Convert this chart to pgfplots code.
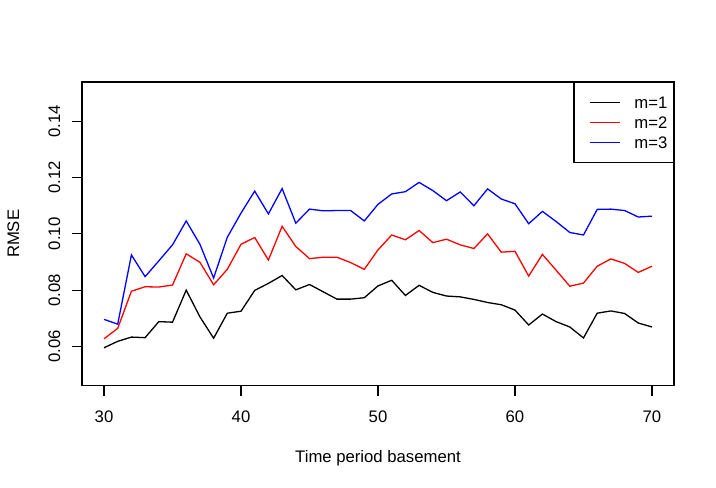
\documentclass[border=0pt]{standalone}
\usepackage{fontspec}
\setmainfont{Liberation Sans}
\usepackage{pgfplots}
\usepackage{pgfplotstable}
\pgfplotsset{compat=1.18}
\pgfplotstableread{
x m1 m2 m3
30 0.0595 0.0627 0.0696
31 0.0618 0.0664 0.0679
32 0.0633 0.0796 0.0925
33 0.0631 0.0812 0.0848
34 0.0688 0.0811 0.0904
35 0.0686 0.0818 0.0961
36 0.0800 0.0929 0.1046
37 0.0705 0.0899 0.0963
38 0.0629 0.0819 0.0843
39 0.0718 0.0874 0.0988
40 0.0725 0.0963 0.1074
41 0.0799 0.0987 0.1152
42 0.0824 0.0907 0.1071
43 0.0852 0.1027 0.1161
44 0.0801 0.0955 0.1038
45 0.0820 0.0912 0.1088
46 0.0794 0.0917 0.1082
47 0.0768 0.0917 0.1083
48 0.0768 0.0898 0.1083
49 0.0773 0.0874 0.1046
50 0.0815 0.0943 0.1105
51 0.0835 0.0996 0.1142
52 0.0781 0.0979 0.1150
53 0.0817 0.1012 0.1183
54 0.0792 0.0969 0.1154
55 0.0779 0.0981 0.1118
56 0.0776 0.0961 0.1149
57 0.0767 0.0948 0.1100
58 0.0756 0.1000 0.1160
59 0.0748 0.0935 0.1124
60 0.0729 0.0938 0.1107
61 0.0676 0.0850 0.1036
62 0.0715 0.0927 0.1080
63 0.0688 0.0871 0.1044
64 0.0669 0.0814 0.1005
65 0.0630 0.0825 0.0996
66 0.0718 0.0885 0.1087
67 0.0726 0.0911 0.1088
68 0.0717 0.0895 0.1083
69 0.0683 0.0863 0.1060
70 0.0669 0.0885 0.1063
}\datatable
\newcommand{\rfont}{\fontsize{16.7bp}{20bp}\selectfont}
\begin{document}
\begin{tikzpicture}
\useasboundingbox (-82.1bp,-102.25bp) rectangle (633.9bp,385.75bp);
\begin{axis}[
  at={(0,0)}, anchor=south west,
  scale only axis,
  width=591.8bp, height=303.75bp,
  xmin=28.4, xmax=71.6,
  ymin=0.046, ymax=0.154,
  xtick={30,40,50,60,70},
  ytick={0.06,0.08,0.10,0.12,0.14},
  xtick pos=left, ytick pos=left,
  tick align=outside,
  major tick length=10bp,
  axis line style={line width=1.2bp},
  every tick/.style={black, line width=1.2bp},
  /pgf/number format/assume math mode=true,
  yticklabel={\pgfmathprintnumber[fixed,fixed zerofill,precision=2]{\tick}},
  xticklabel={\pgfmathprintnumber[fixed,precision=0]{\tick}},
  every tick label/.append style={font=\rfont},
  xticklabel style={anchor=base, inner sep=0pt, yshift=-26.5bp},
  yticklabel style={xshift=-12bp, rotate=90, anchor=base, inner sep=0pt},
  xlabel={Time period basement},
  ylabel={RMSE},
  every axis x label/.style={at={(axis description cs:0.5,-0.25103)}, anchor=base, font=\rfont, inner sep=0pt},
  every axis y label/.style={at={(axis description cs:-0.10646,0.5)}, rotate=90, anchor=base, font=\rfont, inner sep=0pt},
  legend cell align=left,
  legend style={at={(1,1)}, anchor=north east, draw=black, line width=1.2bp, fill=white,
    inner xsep=6bp, inner ysep=10bp, column sep=14bp, row sep=0pt,
    font=\rfont,
    nodes={inner sep=0pt, text height=16bp, text depth=4bp}},
  legend image code/.code={\path (-9bp,0bp); \draw[#1, line width=1.3bp] (0bp,0bp) -- (30bp,0bp);},
]
\addplot[black, line width=1.3bp] table[x=x, y=m1] {\datatable};
\addlegendentry{m=1}
\addplot[red, line width=1.3bp] table[x=x, y=m2] {\datatable};
\addlegendentry{m=2}
\addplot[blue, line width=1.3bp] table[x=x, y=m3] {\datatable};
\addlegendentry{m=3}
\end{axis}
\end{tikzpicture}
\end{document}
